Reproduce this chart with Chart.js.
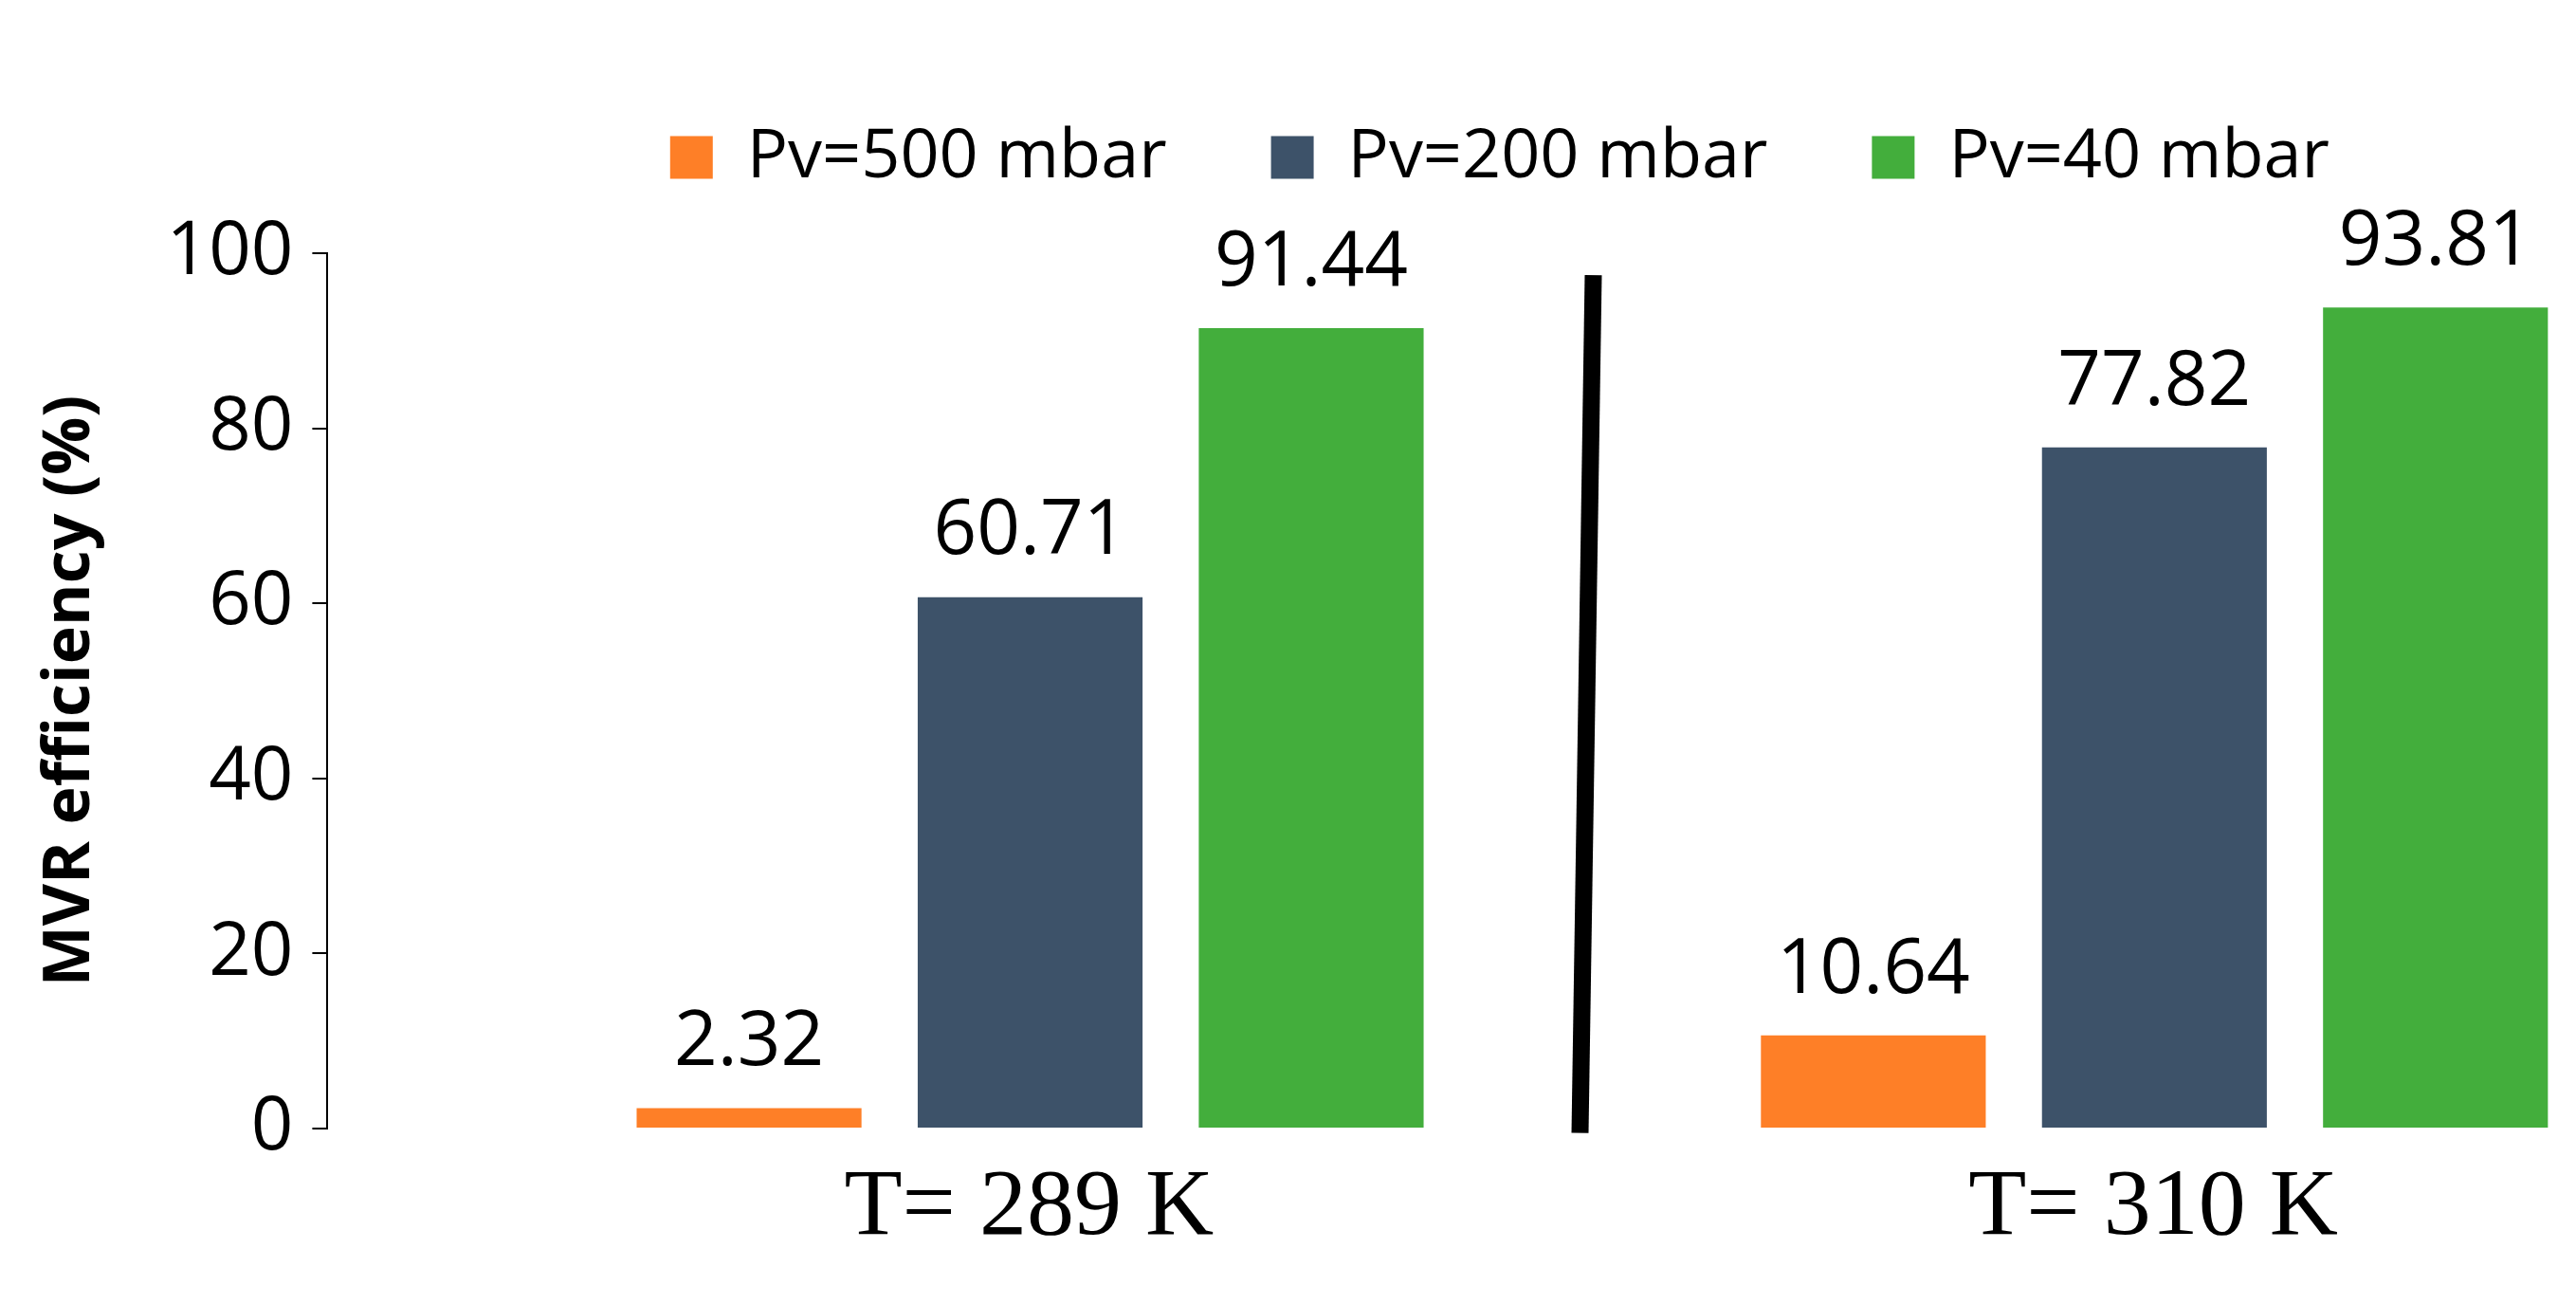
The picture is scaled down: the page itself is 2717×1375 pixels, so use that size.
<!DOCTYPE html>
<html><head><meta charset="utf-8">
<script src="https://cdn.jsdelivr.net/npm/chart.js@4/dist/chart.umd.min.js"></script>
<style>html,body{margin:0;padding:0;background:#fff}#w{width:2717px;height:1375px}</style>
</head><body><div id="w"><canvas id="c"></canvas></div>
<script>
const categories = ['T= 289 K', 'T= 310 K'];
const seriesNames = ['Pv=500 mbar', 'Pv=200 mbar', 'Pv=40 mbar'];
const pv500 = [2.32, 10.64];
const pv200 = [60.71, 77.82];
const pv40 = [91.44, 93.81];
const yTicks = [0, 20, 40, 60, 80, 100];
const colors = ['#FE7F27', '#3D5269', '#43AE3C'];
const SANS = '"Open Sans", "Liberation Sans", sans-serif';

const labelPlugin = {
  id: 'vals',
  beforeLayout(chart) {
    const lg = chart.legend;
    if (lg && !lg._patched) {
      const f = lg.fit.bind(lg);
      lg.fit = function () { f(); this.height += 55; };
      lg._patched = true;
    }
  },
  afterLayout(chart) {
    const lg = chart.legend;
    if (lg) { lg.left -= 150; lg.right -= 150; }
  },
  afterDatasetsDraw(chart) {
    const ctx = chart.ctx;
    ctx.save();
    ctx.font = '80px ' + SANS;
    ctx.fillStyle = '#000';
    ctx.textAlign = 'center';
    ctx.textBaseline = 'bottom';
    chart.data.datasets.forEach((ds, i) => {
      if (ds.hiddenSlot) return;
      chart.getDatasetMeta(i).data.forEach((bar, j) => {
        ctx.fillText(ds.data[j].toFixed(2), bar.x, bar.y - 28);
      });
    });
    const xs = chart.scales.x, ys = chart.scales.y;
    const p0 = xs.getPixelForValue(0), p1 = xs.getPixelForValue(1);
    const xm = p0 + (p1 - p0) * 0.62;
    ctx.strokeStyle = '#000';
    ctx.lineWidth = 18;
    ctx.beginPath();
    ctx.moveTo(xm + 7, ys.getPixelForValue(97.5));
    ctx.lineTo(xm - 7, ys.getPixelForValue(-0.5));
    ctx.stroke();
    ctx.restore();
  }
};

new Chart(document.getElementById('c'), {
  type: 'bar',
  data: {
    labels: categories,
    datasets: [
      { label: '', data: [0, 0], backgroundColor: 'rgba(0,0,0,0)', hiddenSlot: true },
      { label: seriesNames[0], data: pv500, backgroundColor: colors[0] },
      { label: seriesNames[1], data: pv200, backgroundColor: colors[1] },
      { label: seriesNames[2], data: pv40, backgroundColor: colors[2] }
    ]
  },
  options: {
    responsive: true, maintainAspectRatio: false, animation: false,
    devicePixelRatio: 1,
    layout: { padding: { top: 20, right: 0, left: 30, bottom: 15 } },
    datasets: { bar: { categoryPercentage: 1.0, barPercentage: 0.8 } },
    plugins: {
      tooltip: { enabled: false },
      legend: {
        position: 'top', align: 'end',
        labels: {
          font: { size: 72, family: SANS },
          color: '#000', boxWidth: 45, boxHeight: 45, padding: 110,
          filter: (item) => item.text !== ''
        }
      }
    },
    scales: {
      x: {
        grid: { display: false, drawTicks: false },
        border: { display: false },
        ticks: {
          color: '#000', padding: 25, labelOffset: 147,
          font: { size: 100, family: '"Liberation Serif", "DejaVu Serif", serif' }
        }
      },
      y: {
        min: 0, max: 100,
        afterBuildTicks: (s) => { s.ticks = yTicks.map(v => ({ value: v })); },
        grid: { display: true, drawOnChartArea: false, drawTicks: true, tickLength: 16, color: '#000', lineWidth: 2 },
        border: { display: true, color: '#000', width: 2 },
        ticks: { color: '#000', padding: 20, font: { size: 78, family: SANS } },
        title: { display: true, text: 'MVR efficiency (%)', color: '#000', padding: { bottom: 40 },
          font: { size: 68, weight: 'bold', family: SANS } }
      }
    }
  },
  plugins: [labelPlugin]
});
</script></body></html>
